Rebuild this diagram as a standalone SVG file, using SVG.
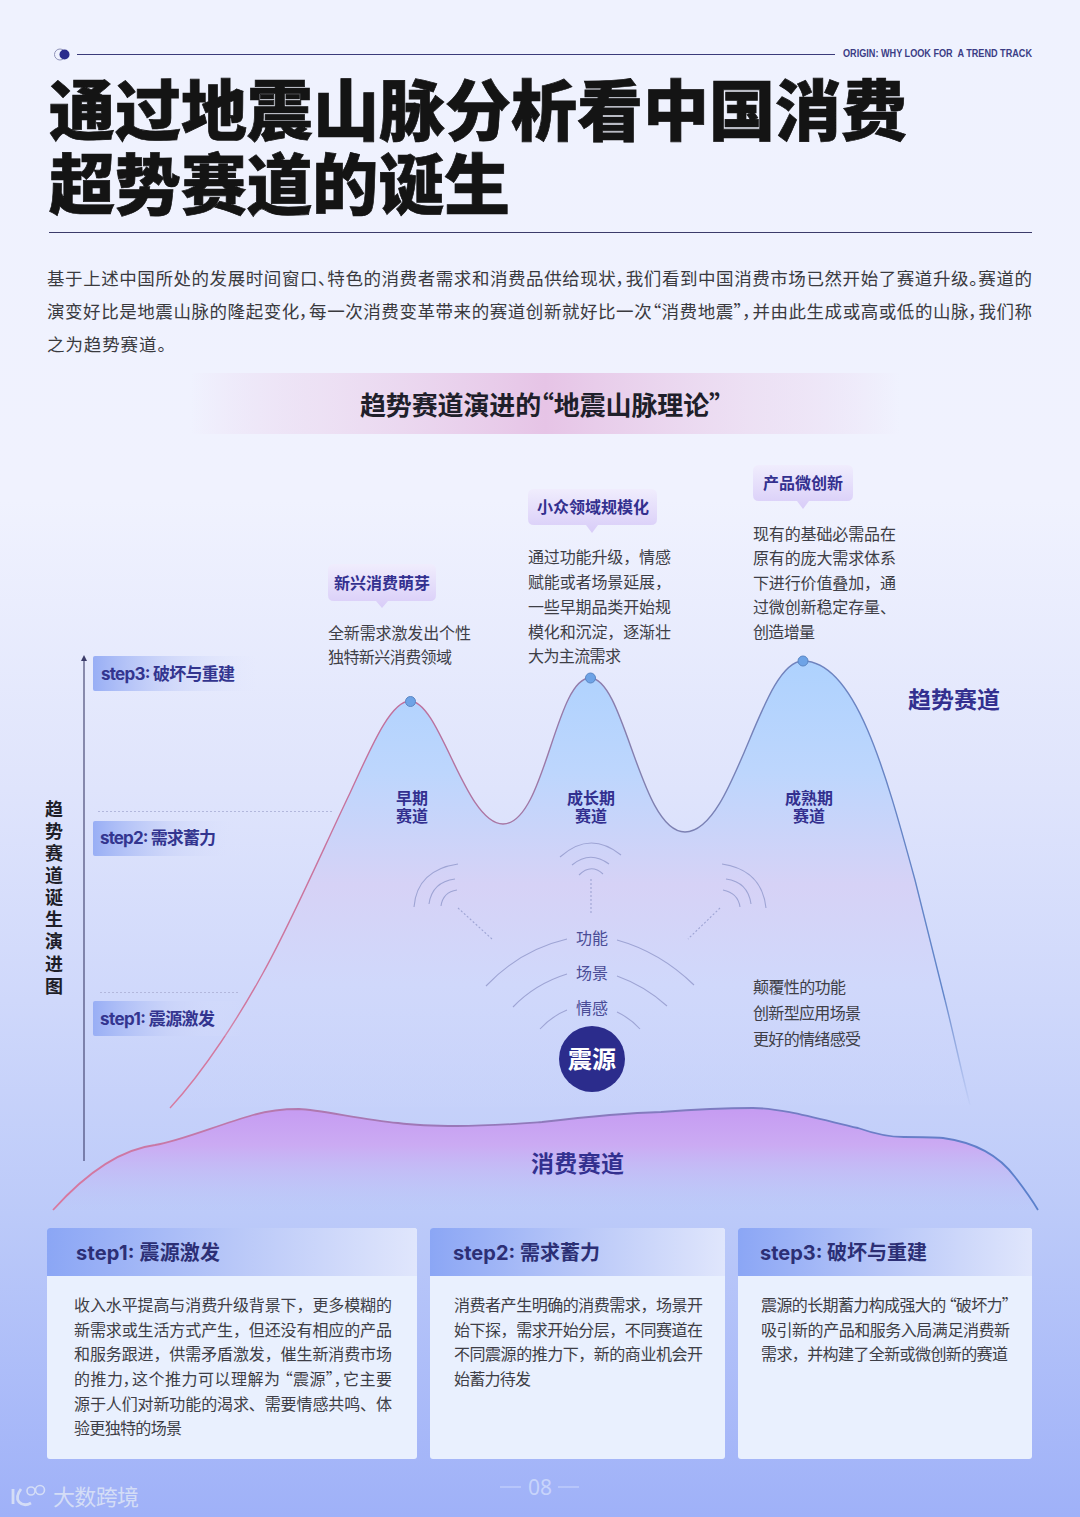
<svg xmlns="http://www.w3.org/2000/svg" width="1080" height="1517" viewBox="0 0 1080 1517">
<defs>
<linearGradient id="bg" x1="0" y1="0" x2="0" y2="1"><stop offset="0" stop-color="#eff2fe"/><stop offset=".33" stop-color="#f0f2fe"/><stop offset=".52" stop-color="#dfe4fc"/><stop offset=".66" stop-color="#cfd8fb"/><stop offset=".8" stop-color="#bccaf9"/><stop offset="1" stop-color="#9fb1f8"/></linearGradient>
<linearGradient id="band" x1="0" y1="0" x2="1" y2="0"><stop offset="0" stop-color="#e8c9e8" stop-opacity="0"/><stop offset=".18" stop-color="#ebd6ee" stop-opacity=".6"/><stop offset=".5" stop-color="#e6c4e6"/><stop offset=".8" stop-color="#ebd6ee" stop-opacity=".6"/><stop offset="1" stop-color="#e8c9e8" stop-opacity="0"/></linearGradient>
<linearGradient id="mt" gradientUnits="userSpaceOnUse" x1="0" y1="660" x2="0" y2="1110"><stop offset="0" stop-color="#aed2fe"/><stop offset=".25" stop-color="#bdd6fd"/><stop offset=".5" stop-color="#d6d2f6"/><stop offset=".72" stop-color="#d0d8fb"/><stop offset="1" stop-color="#c8d3fb" stop-opacity=".2"/></linearGradient>
<linearGradient id="line" gradientUnits="userSpaceOnUse" x1="170" y1="0" x2="970" y2="0"><stop offset="0" stop-color="#d77ba0"/><stop offset=".3" stop-color="#c0709c"/><stop offset=".6" stop-color="#8080b0"/><stop offset="1" stop-color="#5f86cc"/></linearGradient>
<linearGradient id="fadeR" gradientUnits="userSpaceOnUse" x1="0" y1="1000" x2="0" y2="1110"><stop offset="0" stop-color="#6f8ecf"/><stop offset="1" stop-color="#6f8ecf" stop-opacity="0"/></linearGradient>
<linearGradient id="base" gradientUnits="userSpaceOnUse" x1="0" y1="1110" x2="0" y2="1212"><stop offset="0" stop-color="#c69cf2"/><stop offset=".35" stop-color="#cbabf3"/><stop offset="1" stop-color="#b9c8f8" stop-opacity=".15"/></linearGradient>
<linearGradient id="baseLine" gradientUnits="userSpaceOnUse" x1="53" y1="0" x2="1038" y2="0"><stop offset="0" stop-color="#d9789f"/><stop offset=".4" stop-color="#9a78b8"/><stop offset="1" stop-color="#5a80cc"/></linearGradient>
<linearGradient id="stepg" x1="0" y1="0" x2="1" y2="0"><stop offset="0" stop-color="#98aef5"/><stop offset=".5" stop-color="#c6d0f8" stop-opacity=".6"/><stop offset="1" stop-color="#dfe4fc" stop-opacity="0"/></linearGradient>
<linearGradient id="head" x1="0" y1="0" x2="1" y2="0"><stop offset="0" stop-color="#8ba6f5"/><stop offset=".5" stop-color="#b8c7f8"/><stop offset="1" stop-color="#e0e6fc"/></linearGradient>
<linearGradient id="bub" x1="0" y1="0" x2="0" y2="1"><stop offset="0" stop-color="#f0edfd"/><stop offset="1" stop-color="#d8ccf8"/></linearGradient>
<style>
text{font-family:"Noto Sans CJK SC","Noto Sans",sans-serif}
.title{font-size:66px;font-weight:900;fill:#141414;stroke:#141414;stroke-width:.7px}
.body{font-size:17.5px;fill:#3a3a3e;font-feature-settings:"palt"}
.t{font-size:16px;fill:#3e3e46}
.p{font-feature-settings:"palt"}
.bt{font-size:16px;font-weight:700;fill:#33308f}
.nv{font-size:16px;font-weight:700;fill:#33308f;text-anchor:middle}
.st{font-size:17px;font-weight:700;fill:#33358f;font-family:Inter,"Noto Sans CJK SC",sans-serif}
.hd{font-size:20px;font-weight:700;fill:#2c2f75;font-family:Inter,"Noto Sans CJK SC",sans-serif}
.arc{fill:none;stroke:#9ea4d4;stroke-width:1.1}
.dash{fill:none;stroke:#9ea4d4;stroke-width:1.1;stroke-dasharray:2 2}
.fn{font-size:16px;fill:#4a4c96;text-anchor:middle}
.card{fill:#e9f0fe}
.big{font-size:23px;font-weight:700;fill:#33308f}
</style>
</defs>
<rect id="background" width="1080" height="1517" fill="url(#bg)"/>

<g id="header">
<circle cx="60" cy="54.500" r="5.500" fill="none" stroke="#8f92b8" stroke-width="1"/>
<circle cx="64.500" cy="54.500" r="5" fill="#2b2c8c"/>
<line x1="77" y1="54.500" x2="835" y2="54.500" stroke="#3b3b7a" stroke-width="1"/>
<text x="843" y="57" font-size="10" fill="#3b3d85" textLength="189" lengthAdjust="spacingAndGlyphs" style="font-family:'Liberation Sans',sans-serif;font-weight:700" xml:space="preserve">ORIGIN: WHY LOOK FOR  A TREND TRACK</text>
<text class="title" x="49" y="135" textLength="858">通过地震山脉分析看中国消费</text>
<text class="title" x="49" y="209" textLength="461">超势赛道的诞生</text>
<line x1="49" y1="232.500" x2="1032" y2="232.500" stroke="#3b3b6a" stroke-width="1"/>
</g>

<g id="intro">
<text class="body" x="47" y="285" textLength="985">基于上述中国所处的发展时间窗口、特色的消费者需求和消费品供给现状，我们看到中国消费市场已然开始了赛道升级。赛道的</text>
<text class="body" x="47" y="318" textLength="985">演变好比是地震山脉的隆起变化，每一次消费变革带来的赛道创新就好比一次“消费地震”，并由此生成或高或低的山脉，我们称</text>
<text class="body" x="47" y="351" textLength="119">之为趋势赛道。</text>
</g>

<g id="chart-title">
<rect x="190" y="373" width="710" height="61" fill="url(#band)"/>
<text class="p" x="360" y="415" font-size="26" font-weight="700" fill="#1f1f2a" textLength="362">趋势赛道演进的“地震山脉理论”</text>
</g>

<g id="mountain">
<path d="M170,1108 C205,1070 240,1015 263,973 C290,925 325,845 350,793 C370,750 390,701 410,701 C440,701 465,824 503,824 C545,824 555,678 590,678 C625,678 640,832 685,832 C735,832 760,661 803,661 C855,661 885,770 915,880 C935,960 955,1050 970,1105 Z" fill="url(#mt)"/>
<path d="M170,1108 C205,1070 240,1015 263,973 C290,925 325,845 350,793 C370,750 390,701 410,701 C440,701 465,824 503,824 C545,824 555,678 590,678 C625,678 640,832 685,832 C735,832 760,661 803,661 C855,661 885,770 915,880 C925,920 935,960 945,1000" fill="none" stroke="url(#line)" stroke-width="1.400"/>
<path d="M945,1000 C955,1040 962,1075 970,1105" fill="none" stroke="url(#fadeR)" stroke-width="1.400"/>
<circle cx="410.500" cy="701.500" r="5" fill="#6ea3e6" stroke="#5a86c4" stroke-width="1"/>
<circle cx="590.500" cy="678" r="5" fill="#6ea3e6" stroke="#5a86c4" stroke-width="1"/>
<circle cx="803" cy="661" r="5" fill="#6ea3e6" stroke="#5a86c4" stroke-width="1"/>
<text class="nv"><tspan x="412" y="804">早期</tspan><tspan x="412" y="822">赛道</tspan></text>
<text class="nv"><tspan x="591" y="804">成长期</tspan><tspan x="591" y="822">赛道</tspan></text>
<text class="nv"><tspan x="809" y="804">成熟期</tspan><tspan x="809" y="822">赛道</tspan></text>
<text class="big" x="908" y="708" textLength="92">趋势赛道</text>
</g>

<g id="base-range">
<path id="basefill" d="M53,1210 C80,1180 115,1150 155,1145 C180,1141 215,1126 253,1115 C270,1110 285,1109 299,1109 C320,1110 360,1119 398,1123 C420,1126 440,1126 457,1126 C490,1126 515,1124 542,1122 C585,1117 625,1113 661,1112 C700,1109 730,1108 753,1108 C780,1108 815,1118 858,1128 C875,1134 890,1137 904,1137 C920,1137 932,1137 943,1138 C965,1141 995,1150 1015,1177 C1025,1190 1032,1200 1038,1210 Z" fill="url(#base)"/>
<path d="M53,1210 C80,1180 115,1150 155,1145 C180,1141 215,1126 253,1115 C270,1110 285,1109 299,1109 C320,1110 360,1119 398,1123 C420,1126 440,1126 457,1126 C490,1126 515,1124 542,1122 C585,1117 625,1113 661,1112 C700,1109 730,1108 753,1108 C780,1108 815,1118 858,1128 C875,1134 890,1137 904,1137 C920,1137 932,1137 943,1138 C965,1141 995,1150 1015,1177 C1025,1190 1032,1200 1038,1210" fill="none" stroke="url(#baseLine)" stroke-width="1.800"/>
<text class="big" x="531" y="1172" textLength="93">消费赛道</text>
</g>

<g id="axis">
<line x1="84" y1="660" x2="84" y2="1161" stroke="#3c3c6a" stroke-width="1.100"/>
<path d="M84,655 L87,661 L81,661 Z" fill="#3c3c6a"/>
<line x1="98" y1="811.500" x2="332" y2="811.500" stroke="#b2b7dc" stroke-width="1" stroke-dasharray="2 2"/>
<line x1="100" y1="992.500" x2="240" y2="992.500" stroke="#b2b7dc" stroke-width="1" stroke-dasharray="2 2"/>
<text font-size="18" font-weight="700" fill="#1e1e28" text-anchor="middle"><tspan x="54" y="816">趋</tspan><tspan x="54" y="838">势</tspan><tspan x="54" y="860">赛</tspan><tspan x="54" y="882">道</tspan><tspan x="54" y="904">诞</tspan><tspan x="54" y="926">生</tspan><tspan x="54" y="948">演</tspan><tspan x="54" y="971">进</tspan><tspan x="54" y="993">图</tspan></text>
</g>

<g id="step-label-3"><rect x="93" y="656" width="165" height="35" rx="2" fill="url(#stepg)"/><text class="st" x="101" y="680" textLength="134">step3: 破坏与重建</text></g>
<g id="step-label-2"><rect x="93" y="821" width="150" height="35" rx="2" fill="url(#stepg)"/><text class="st" x="100" y="844" textLength="116">step2: 需求蓄力</text></g>
<g id="step-label-1"><rect x="93" y="1001" width="150" height="35" rx="2" fill="url(#stepg)"/><text class="st" x="100" y="1025" textLength="115">step1: 震源激发</text></g>

<g id="bubble-1">
<path d="M334,564 H430 Q436,564 436,570 V595 Q436,601 430,601 H388 L382,608 L376,601 H334 Q328,601 328,595 V570 Q328,564 334,564 Z" fill="url(#bub)"/>
<text class="bt" x="334" y="589" textLength="96">新兴消费萌芽</text>
<text class="t" x="328" y="639" textLength="143">全新需求激发出个性</text>
<text class="t" x="328" y="663" textLength="124">独特新兴消费领域</text>
</g>
<g id="bubble-2">
<path d="M534,489 H651 Q657,489 657,495 V519 Q657,525 651,525 H598 L592,533 L586,525 H534 Q528,525 528,519 V495 Q528,489 534,489 Z" fill="url(#bub)"/>
<text class="bt" x="537" y="513" textLength="112">小众领域规模化</text>
<text class="t" x="528" y="563" textLength="143">通过功能升级，情感</text>
<text class="t" x="528" y="588" textLength="143">赋能或者场景延展，</text>
<text class="t" x="528" y="613" textLength="143">一些早期品类开始规</text>
<text class="t" x="528" y="638" textLength="143">模化和沉淀，逐渐壮</text>
<text class="t" x="528" y="662" textLength="93">大为主流需求</text>
</g>
<g id="bubble-3">
<path d="M759,465 H847 Q853,465 853,471 V495 Q853,501 847,501 H809 L803,509 L797,501 H759 Q753,501 753,495 V471 Q753,465 759,465 Z" fill="url(#bub)"/>
<text class="bt" x="763" y="489" textLength="80">产品微创新</text>
<text class="t" x="753" y="540" textLength="143">现有的基础必需品在</text>
<text class="t" x="753" y="564" textLength="143">原有的庞大需求体系</text>
<text class="t" x="753" y="589" textLength="143">下进行价值叠加，通</text>
<text class="t" x="753" y="613" textLength="143">过微创新稳定存量、</text>
<text class="t" x="753" y="638" textLength="62">创造增量</text>
</g>

<g id="connectors">
<path class="arc" d="M560,857 Q590,830 621,855"/>
<path class="arc" d="M572,865 Q590,850 609,864"/>
<path class="arc" d="M579,875 Q591,863 603,874"/>
<line class="dash" x1="591" y1="879" x2="591" y2="915"/>
<path class="arc" d="M414,907 Q417,870 458,864"/>
<path class="arc" d="M429,904 Q432,882 455,879"/>
<path class="arc" d="M441,906 Q443,892 457,890"/>
<line class="dash" x1="458" y1="908" x2="492" y2="939"/>
<path class="arc" d="M722,864 Q762,870 766,908"/>
<path class="arc" d="M726,879 Q748,882 751,904"/>
<path class="arc" d="M723,890 Q738,893 740,907"/>
<line class="dash" x1="720" y1="908" x2="688" y2="939"/>
<path class="arc" d="M486,986 Q520,950 567,939"/>
<path class="arc" d="M617,940 Q660,952 694,985"/>
<path class="arc" d="M513,1007 Q535,984 567,974"/>
<path class="arc" d="M617,976 Q645,986 667,1006"/>
<path class="arc" d="M540,1029 Q552,1016 567,1010"/>
<path class="arc" d="M617,1012 Q630,1018 640,1029"/>
</g>

<g id="source">
<text class="fn" x="592" y="944">功能</text>
<text class="fn" x="592" y="979">场景</text>
<text class="fn" x="592" y="1014">情感</text>
<circle cx="592" cy="1059" r="33" fill="#2b2c8c"/>
<text x="592" y="1068" text-anchor="middle" font-size="24" font-weight="700" fill="#ffffff">震源</text>
<text class="t" x="753" y="993" textLength="93">颠覆性的功能</text>
<text class="t" x="753" y="1019" textLength="108">创新型应用场景</text>
<text class="t" x="753" y="1045" textLength="108">更好的情绪感受</text>
</g>

<g id="card-1">
<rect class="card" x="47" y="1228" width="370" height="231" rx="3"/>
<path d="M50,1228 H414 Q417,1228 417,1231 V1276 H47 V1231 Q47,1228 50,1228 Z" fill="url(#head)"/>
<text class="hd" x="76" y="1260" textLength="144">step1: 震源激发</text>
<text class="t" x="74" y="1311" textLength="318">收入水平提高与消费升级背景下，更多模糊的</text>
<text class="t" x="74" y="1336" textLength="318">新需求或生活方式产生，但还没有相应的产品</text>
<text class="t" x="74" y="1360" textLength="318">和服务跟进，供需矛盾激发，催生新消费市场</text>
<text class="t p" x="74" y="1385" textLength="318">的推力，这个推力可以理解为 “震源”，它主要</text>
<text class="t" x="74" y="1410" textLength="318">源于人们对新功能的渴求、需要情感共鸣、体</text>
<text class="t" x="74" y="1434" textLength="108">验更独特的场景</text>
</g>
<g id="card-2">
<rect class="card" x="430" y="1228" width="295" height="231" rx="3"/>
<path d="M433,1228 H722 Q725,1228 725,1231 V1276 H430 V1231 Q430,1228 433,1228 Z" fill="url(#head)"/>
<text class="hd" x="453" y="1260" textLength="147">step2: 需求蓄力</text>
<text class="t" x="454" y="1311" textLength="249">消费者产生明确的消费需求，场景开</text>
<text class="t" x="454" y="1336" textLength="249">始下探，需求开始分层，不同赛道在</text>
<text class="t" x="454" y="1360" textLength="249">不同震源的推力下，新的商业机会开</text>
<text class="t" x="454" y="1385" textLength="77">始蓄力待发</text>
</g>
<g id="card-3">
<rect class="card" x="738" y="1228" width="294" height="231" rx="3"/>
<path d="M741,1228 H1029 Q1032,1228 1032,1231 V1276 H738 V1231 Q738,1228 741,1228 Z" fill="url(#head)"/>
<text class="hd" x="760" y="1260" textLength="167">step3: 破坏与重建</text>
<text class="t p" x="761" y="1311" textLength="249">震源的长期蓄力构成强大的 “破坏力”</text>
<text class="t" x="761" y="1336" textLength="249">吸引新的产品和服务入局满足消费新</text>
<text class="t" x="761" y="1360" textLength="247">需求，并构建了全新或微创新的赛道</text>
</g>

<g id="footer">
<line x1="500" y1="1487" x2="521" y2="1487" stroke="#c6d2fb" stroke-width="1.200"/>
<text x="540" y="1495" text-anchor="middle" font-size="21" fill="#c8d4fb" style="font-family:'Noto Sans',sans-serif">08</text>
<line x1="558" y1="1487" x2="579" y2="1487" stroke="#c6d2fb" stroke-width="1.200"/>
<g fill="none" stroke="#d4ddf6" stroke-width="2.800">
<path d="M13,1489 V1504"/>
<path d="M21,1489 Q15,1497 19,1502 Q24,1507 31,1503"/>
</g>
<g fill="none" stroke="#d4ddf6" stroke-width="1.600">
<circle cx="31" cy="1491" r="4"/>
<circle cx="40" cy="1490" r="4.500"/>
</g>
<text x="53" y="1505" font-size="22" fill="#d4ddf6" textLength="86">大数跨境</text>
</g>
</svg>
